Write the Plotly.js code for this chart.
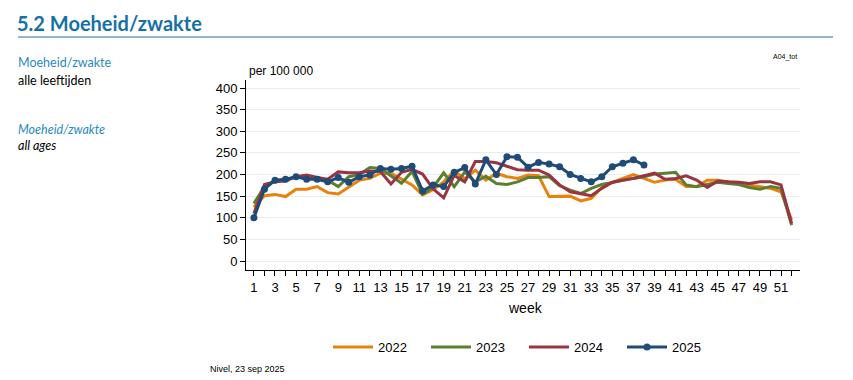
<!DOCTYPE html>
<html>
<head>
<meta charset="utf-8">
<script src="https://cdn.plot.ly/plotly-3.0.1.min.js"></script>
<style>
html,body{margin:0;padding:0;background:#fff;}
#chart{width:853px;height:380px;}
</style>
</head>
<body>
<div id="chart"></div>
<script>
// ---- data ----
const weeks = Array.from({length: 52}, (_, i) => i + 1);
const weeks2025 = weeks.slice(0, 38);

const series2022 = [125,151,154,149,166,166,172,158,155,172,187,191,203,203,190,176,153,165,183,208,190,210,187,203,195,191,
                    199,197,149,149,150,139,145,170,182,191,200,191,182,187,189,172,172,187,187,183,179,176,172,168,160,95];
const series2023 = [133,172,185,187,195,193,193,187,172,195,200,216,214,197,180,207,155,170,204,172,206,183,196,179,177,183,
                    193,193,195,174,164,156,168,177,182,187,191,195,201,203,205,176,172,177,182,179,177,170,166,172,168,83];
const series2024 = [110,177,183,185,195,199,193,189,206,204,204,208,207,178,205,212,201,167,146,198,183,230,230,227,219,211,
                    210,210,199,176,160,156,151,168,182,187,191,197,203,189,191,197,187,170,185,183,182,179,183,183,176,87];
const series2025 = [100,166,187,189,195,189,189,183,193,182,195,199,214,212,214,219,162,176,172,205,216,178,234,200,241,240,
                    217,228,224,218,200,191,183,195,218,226,234,222];

const yearLabels = ['2022','2023','2024','2025'];
const yTicks = [0,50,100,150,200,250,300,350,400];

// ---- layout helpers (pixel -> paper) ----
const L = 246, R = 800, T = 80, B = 270;
const W = R - L, H = B - T;
const px = x => (x - L) / W;
const py = y => (B - y) / H;

const colors = ['#E8820C', '#5B7F2F', '#993443', '#1E4B78'];
const allSeries = [series2022, series2023, series2024];

const traces = allSeries.map((s, i) => ({
  x: weeks, y: s, type: 'scatter', mode: 'lines', name: yearLabels[i],
  line: {color: colors[i], width: 3}, hoverinfo: 'skip'
}));
traces.push({
  x: weeks2025, y: series2025, type: 'scatter', mode: 'lines+markers', name: yearLabels[3],
  line: {color: colors[3], width: 3}, marker: {color: colors[3], size: 7}, hoverinfo: 'skip'
});

const font = 'Liberation Sans, Arial, sans-serif';
const sideFont = 'Lato, Open Sans, sans-serif';

const layout = {
  width: 853, height: 380,
  margin: {l: L, r: 853 - R, t: T, b: 380 - B, pad: 0},
  paper_bgcolor: '#fff', plot_bgcolor: '#fff',
  showlegend: true,
  legend: {
    orientation: 'h', x: px(328), xanchor: 'left', y: py(347), yanchor: 'middle',
    font: {family: font, size: 13, color: '#000'}, itemwidth: 40, entrywidth: 43, entrywidthmode: 'pixels',
    traceorder: 'normal'
  },
  xaxis: {
    range: [0.25, 52.8], tickmode: 'array',
    tickvals: weeks.filter(w => w % 2 === 1), ticktext: weeks.filter(w => w % 2 === 1).map(String),
    ticks: 'outside', ticklen: 5, tickcolor: '#000', tickwidth: 1,
    minor: {tickmode: 'linear', tick0: 0, dtick: 1, ticks: 'outside', ticklen: 5, tickcolor: '#000', showgrid: false},
    showline: true, linecolor: '#000', linewidth: 1, showgrid: false, zeroline: false,
    tickfont: {family: font, size: 13, color: '#000'}, fixedrange: true
  },
  yaxis: {
    range: [-20.8, 418.5], tickmode: 'array', tickvals: yTicks, ticktext: yTicks.map(String),
    ticks: 'outside', ticklen: 5, tickcolor: '#000',
    showline: true, linecolor: '#000', linewidth: 1,
    showgrid: true, gridcolor: '#e6edf0', gridwidth: 1, zeroline: false,
    tickfont: {family: font, size: 13, color: '#000'}, fixedrange: true
  },
  shapes: [
    {type: 'line', xref: 'paper', yref: 'paper', x0: px(18), x1: px(833), y0: py(37), y1: py(37),
     line: {color: '#2a6f97', width: 1}}
  ],
  annotations: [
    {text: '<b>5.2 Moeheid/zwakte</b>', xref: 'paper', yref: 'paper', x: px(15), y: py(23), xanchor: 'left', yanchor: 'middle',
     showarrow: false, font: {family: sideFont, size: 20, color: '#1570a6'}},
    {text: 'Moeheid/zwakte', xref: 'paper', yref: 'paper', x: px(16), y: py(63), xanchor: 'left', yanchor: 'middle',
     showarrow: false, font: {family: sideFont, size: 12.5, color: '#2a8ac0'}},
    {text: 'alle leeftijden', xref: 'paper', yref: 'paper', x: px(16), y: py(80), xanchor: 'left', yanchor: 'middle',
     showarrow: false, font: {family: sideFont, size: 12.5, color: '#000'}},
    {text: '<i>Moeheid/zwakte</i>', xref: 'paper', yref: 'paper', x: px(16), y: py(129), xanchor: 'left', yanchor: 'middle',
     showarrow: false, font: {family: sideFont, size: 12.5, color: '#2a8ac0'}},
    {text: '<i>all ages</i>', xref: 'paper', yref: 'paper', x: px(16), y: py(145), xanchor: 'left', yanchor: 'middle',
     showarrow: false, font: {family: sideFont, size: 12.5, color: '#000'}},
    {text: 'per 100 000', xref: 'paper', yref: 'paper', x: px(247), y: py(71), xanchor: 'left', yanchor: 'middle',
     showarrow: false, font: {family: font, size: 12, color: '#000'}},
    {text: 'A04_tot', xref: 'paper', yref: 'paper', x: px(799), y: py(57), xanchor: 'right', yanchor: 'middle',
     showarrow: false, font: {family: font, size: 7, color: '#000'}},
    {text: 'week', xref: 'paper', yref: 'paper', x: px(525), y: py(308), xanchor: 'center', yanchor: 'middle',
     showarrow: false, font: {family: font, size: 14, color: '#000'}},
    {text: 'Nivel, 23 sep 2025', xref: 'paper', yref: 'paper', x: px(208), y: py(369), xanchor: 'left', yanchor: 'middle',
     showarrow: false, font: {family: font, size: 9, color: '#000'}}
  ]
};

Plotly.newPlot('chart', traces, layout, {displayModeBar: false, staticPlot: true});
</script>
</body>
</html>
